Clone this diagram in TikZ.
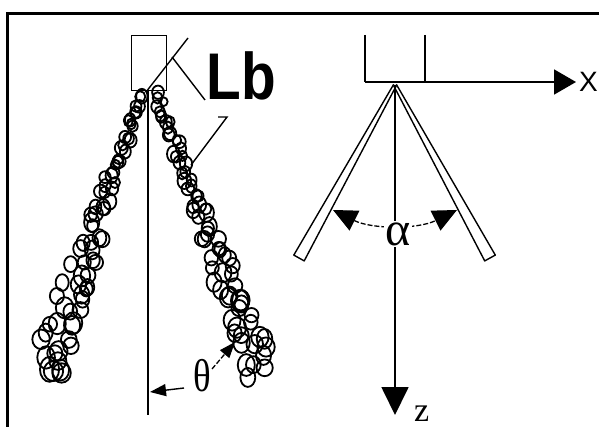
\documentclass[tikz,border=0pt]{standalone}
\usepackage{fontspec}
\newfontfamily\arialf{Liberation Sans}
\newfontfamily\seriff{Liberation Serif}
\usetikzlibrary{arrows.meta,calc}
\begin{document}
\begin{tikzpicture}[x=1pt,y=-1pt,
  frameline/.style={line width=3pt},
  thin/.style={line width=1.4pt},
  axis/.style={line width=1.8pt},
  drop/.style={line width=1.8pt},
  dashline/.style={line width=1.3pt,dash pattern=on 5pt off 2pt},
  bigtip/.style={-{Triangle[length=22pt,width=25pt]}},
  smalltip/.style={-{Triangle[length=16pt,width=12pt]}}]
\useasboundingbox (0,0) rectangle (599,427);
\fill[white] (0,0) rectangle (599,427);

% outer frame
\draw[frameline] (7.5,440) -- (7.5,14) -- (610,14);

% ---------- spray with break-up length ----------
\node[draw,thin,minimum width=35pt,minimum height=55pt,inner sep=0,anchor=north west] (nozzle) at (131,35) {};
\coordinate (axtop) at (148,91);
\coordinate (axbot) at (148,415);
\draw[thin] (axtop) -- (axbot);

% droplets, left jet
\pgfmathsetseed{7}
\foreach \i in {0,...,36}{
  \foreach \k in {1,2}{
    \pgfmathsetmacro\t{\i/36}
    \pgfmathsetmacro\hw{4+14*\t}
    \pgfmathsetmacro\u{\hw*rand}
    \pgfmathsetmacro\v{4*rand}
    \pgfmathsetmacro\cx{141-96*\t+0.946*\u-0.323*\v}
    \pgfmathsetmacro\cy{96+276*\t+0.323*\u+0.946*\v}
    \pgfmathsetmacro\rx{4.8+3.8*\t+1.2*rand}
    \pgfmathsetmacro\ry{\rx*(1.15+0.15*rand)}
    \draw[drop] (\cx,\cy) ellipse [x radius=\rx, y radius=\ry];
  }
}
% droplets, right jet
\foreach \i in {0,...,36}{
  \foreach \k in {1,2}{
    \pgfmathsetmacro\t{\i/36}
    \pgfmathsetmacro\hw{4+13*\t}
    \pgfmathsetmacro\u{\hw*rand}
    \pgfmathsetmacro\v{4*rand}
    \pgfmathsetmacro\cx{157+103*\t+0.934*\u+0.356*\v}
    \pgfmathsetmacro\cy{96+274*\t-0.356*\u+0.934*\v}
    \pgfmathsetmacro\rx{4.8+3.8*\t+1.2*rand}
    \pgfmathsetmacro\ry{\rx*(1.15+0.15*rand)}
    \draw[drop] (\cx,\cy) ellipse [x radius=\rx, y radius=\ry];
  }
}

% break-up length label and its leaders
\node[inner sep=0,anchor=base,xscale=0.86] (lb) at (241.5,100)
  {\arialf\bfseries\fontsize{66}{66}\selectfont Lb};
\coordinate (la1) at (188,38);  \coordinate (la2) at (146,92);
\coordinate (lb1) at (172,57);  \coordinate (lb2) at (205,100);
\coordinate (lc1) at (227,117); \coordinate (lc2) at (191,165);
\coordinate (lc0) at (218,117);
\draw[thin] (la1) -- (la2);
\draw[thin] (lb1) -- (lb2);
\draw[thin] (lc0) -- (lc1) -- (lc2);

% spray angle theta
\node[inner sep=0,xscale=0.8] (theta) at (202,376)
  {\seriff\fontsize{46}{46}\selectfont θ};
\coordinate (thL) at (150,392);
\coordinate (thLs) at (184,388);
\coordinate (thR) at (235,342);
\coordinate (thRs) at (212,369);
\draw[thin,smalltip] (thLs) -- (thL);
\draw[dashline,smalltip] (thRs) -- (thR);

% ---------- cone angle sketch ----------
\coordinate (apex) at (395,85);
\coordinate (p1) at (365,35);
\coordinate (p1b) at (365,82);
\coordinate (p2) at (425,35);
\coordinate (p2b) at (425,82);
\coordinate (xend) at (576,82);
\coordinate (zend) at (395,415);
\draw[axis] (p1) -- (p1b);
\draw[axis] (p2) -- (p2b);
\draw[axis,bigtip] (p1b) -- (xend);
\node[inner sep=0,anchor=base west] (xlab) at (579,92)
  {\arialf\fontsize{28}{28}\selectfont X};

% spray sheets
\draw[thin,line join=round] (396.3,85.7) -- (304.2,260.9) -- (293.8,255.1) -- (393.7,84.3);
\draw[thin,line join=round] (393.7,85.7) -- (484.7,260.9) -- (495.3,255.1) -- (396.3,84.3);

% z axis
\draw[axis,-{Triangle[length=28pt,width=27pt]}] (apex) -- (zend);
\node[inner sep=0,anchor=base west] (zlab) at (414,421)
  {\seriff\fontsize{34}{34}\selectfont z};

% alpha arc
\coordinate (aL) at (333,210);
\coordinate (aR) at (457,210);
\draw[dashline,{Triangle[length=24pt,width=22pt]}-{Triangle[length=24pt,width=22pt]}]
  (aL) .. controls (372.1,229.4) and (417.9,229.4) .. (aR);
\node[fill=white,inner sep=1pt] (alpha) at (398,234)
  {\seriff\fontsize{48}{48}\selectfont α};
\end{tikzpicture}
\end{document}
